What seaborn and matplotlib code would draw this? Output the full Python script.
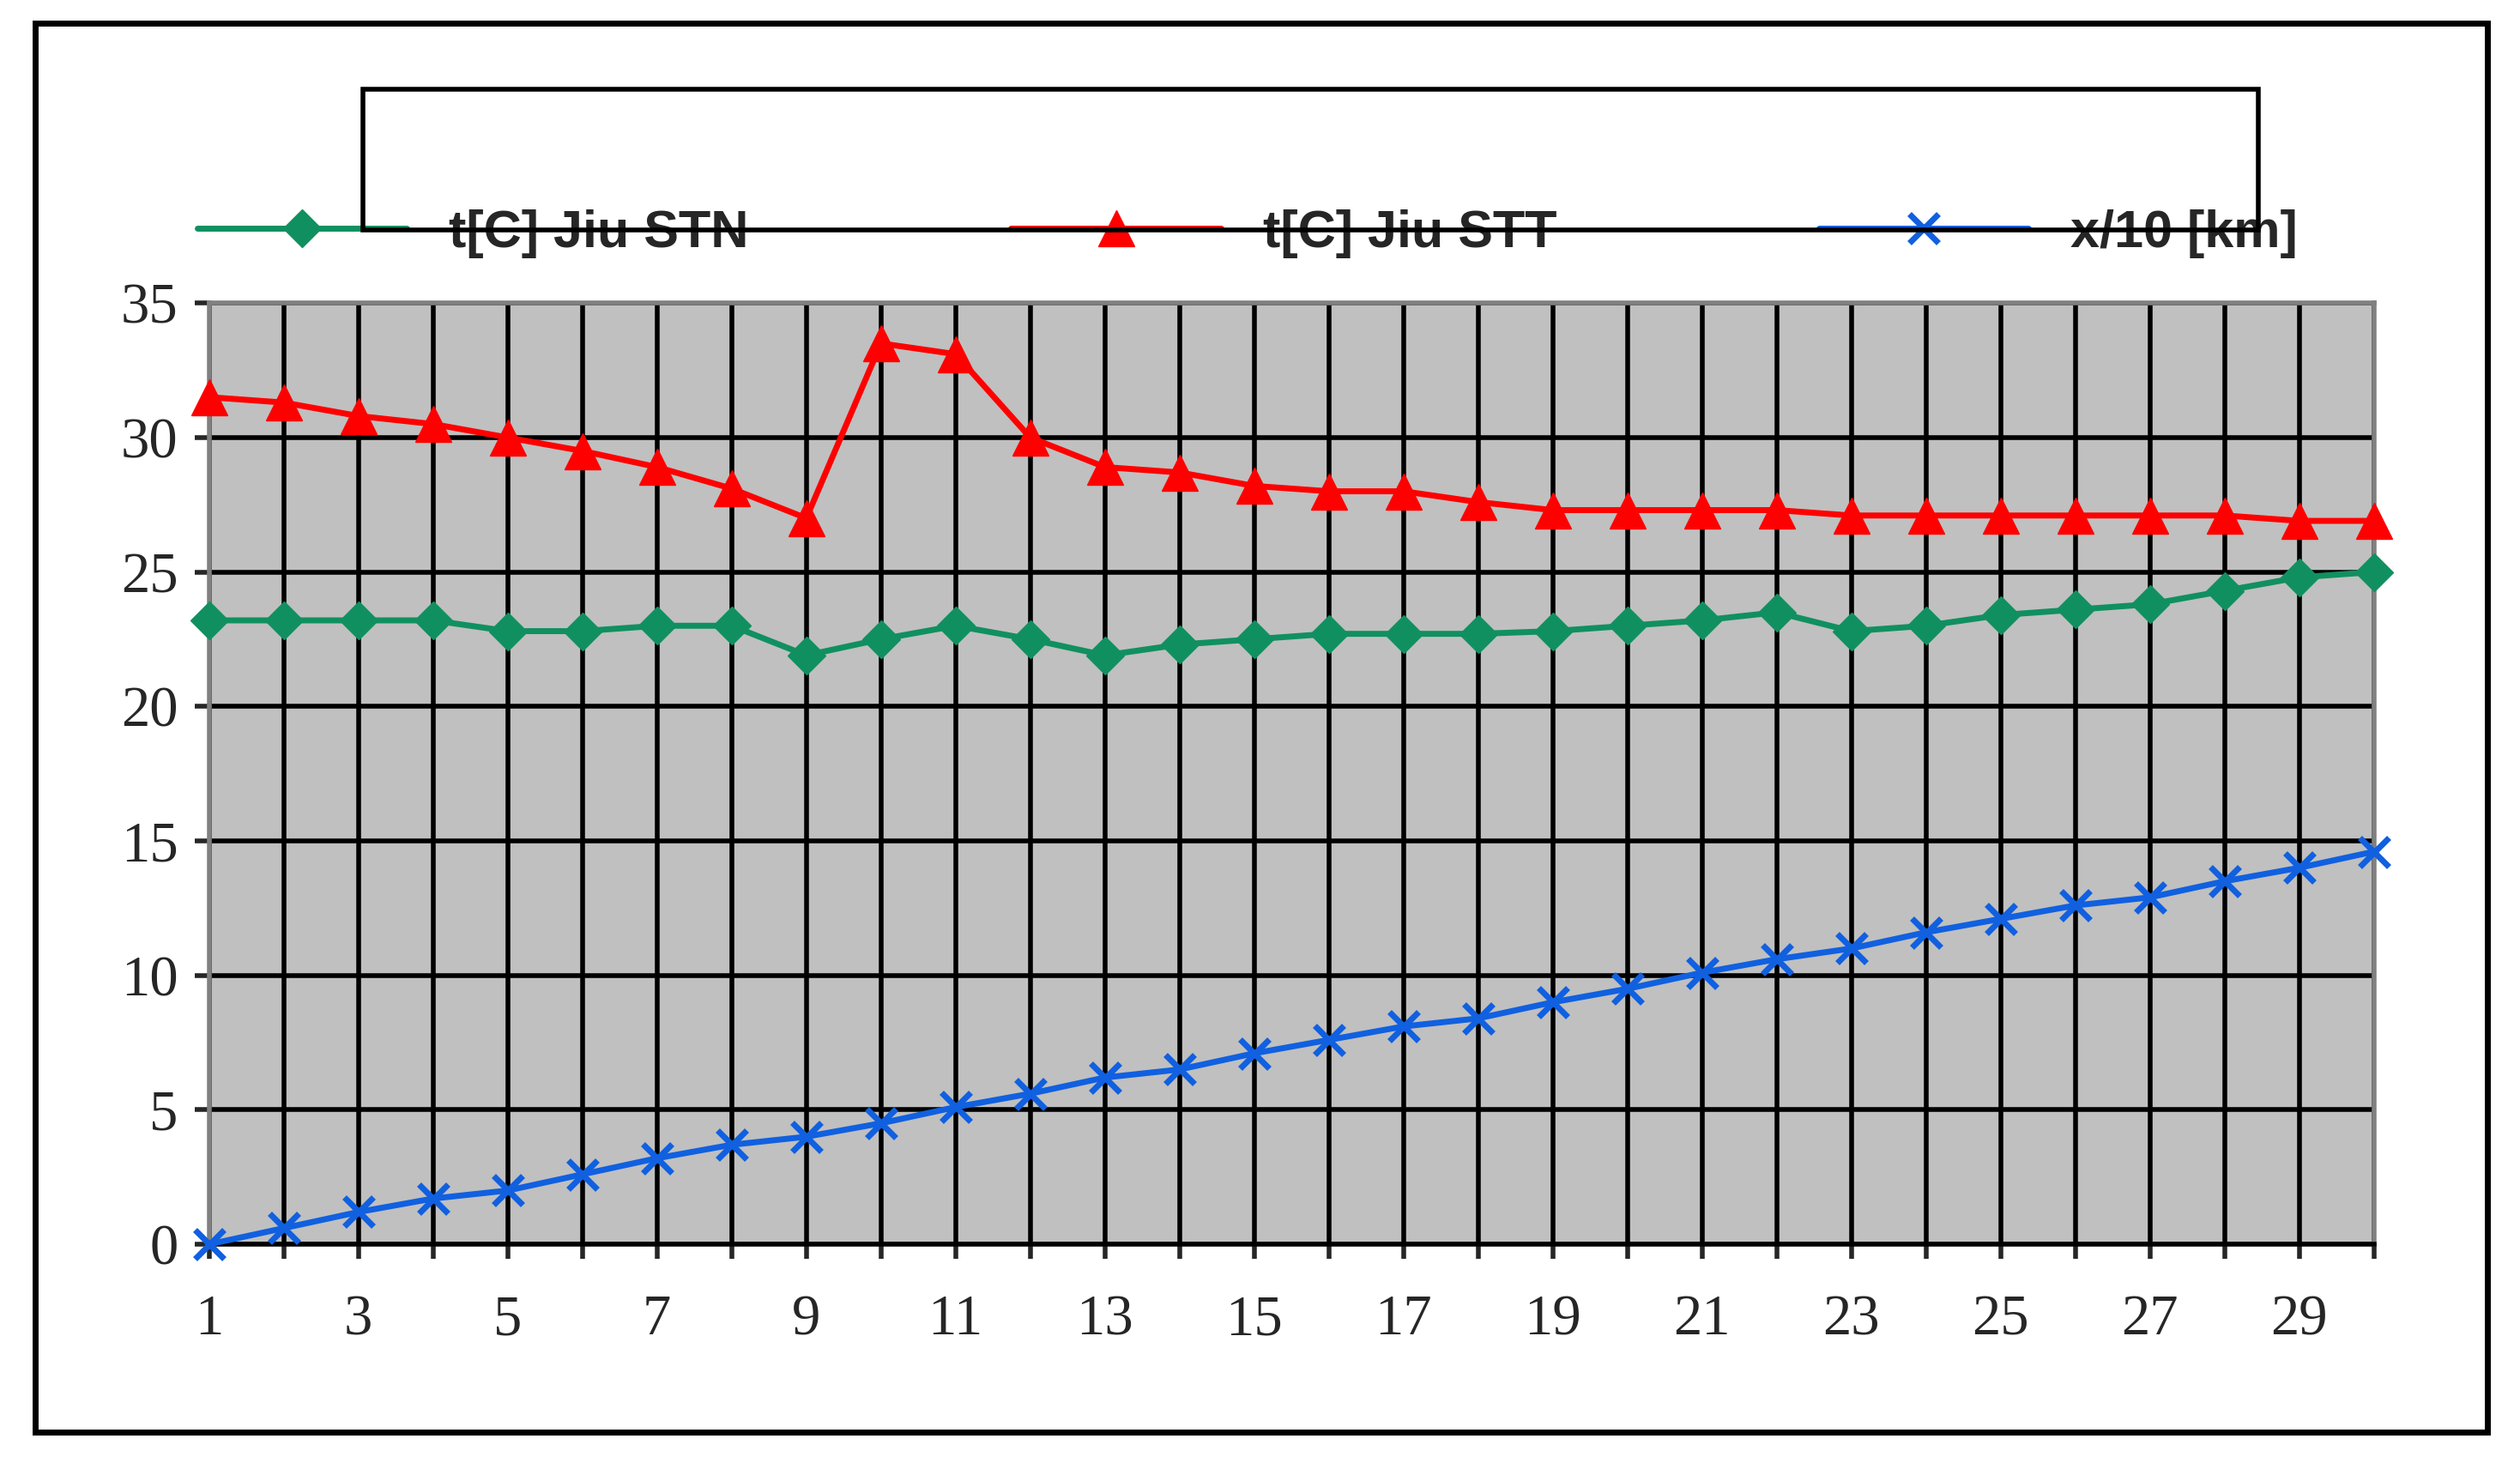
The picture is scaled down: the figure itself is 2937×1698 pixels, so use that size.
import matplotlib
matplotlib.use("Agg")
import matplotlib.pyplot as plt
import seaborn as sns
import pandas as pd
from matplotlib.patches import Rectangle

days = list(range(1, 31))
stn = [23.2, 23.2, 23.2, 23.2, 22.8, 22.8, 23.0, 23.0, 21.9, 22.5,
       23.0, 22.5, 21.9, 22.3, 22.5, 22.7, 22.7, 22.7, 22.8, 23.0,
       23.2, 23.5, 22.8, 23.0, 23.4, 23.6, 23.8, 24.3, 24.8, 25.0]
stt = [31.5, 31.3, 30.8, 30.5, 30.0, 29.5, 28.9, 28.1, 27.0, 33.5,
       33.1, 30.0, 28.9, 28.7, 28.2, 28.0, 28.0, 27.6, 27.3, 27.3,
       27.3, 27.3, 27.1, 27.1, 27.1, 27.1, 27.1, 27.1, 26.9, 26.9]
dist = [0.0, 0.6, 1.2, 1.7, 2.0, 2.6, 3.2, 3.7, 4.0, 4.5,
        5.1, 5.6, 6.2, 6.5, 7.1, 7.6, 8.1, 8.4, 9.0, 9.5,
        10.1, 10.6, 11.0, 11.6, 12.1, 12.6, 12.9, 13.5, 14.0, 14.6]
labels = ["t[C] Jiu STN", "t[C] Jiu STT", "x/10 [km]"]

df = pd.DataFrame({"day": days, labels[0]: stn, labels[1]: stt, labels[2]: dist})

sns.set_style("white")
fig = plt.figure(figsize=(29.37, 16.98), dpi=100)
ax = fig.add_axes([0.083, 0.146, 0.859, 0.646])
ax.set_facecolor("#C0C0C0")

styles = [("#109060", "D", 22, 5), ("#FF0000", "^", 30, 5), ("#1060E0", "x", 24, 5)]
for lab, (c, m, ms, lw) in zip(labels, styles):
    sns.lineplot(data=df, x="day", y=lab, ax=ax, color=c, marker=m, markersize=ms,
                 linewidth=lw, markeredgecolor=c, markeredgewidth=5 if m == "x" else 1,
                 label=lab, zorder=3, clip_on=False)

ax.set_xlim(1, 30)
ax.set_ylim(0, 35)
ax.set_xticks(range(1, 31))
ax.set_xticklabels([str(d) if d % 2 == 1 else "" for d in days])
ax.set_yticks(range(0, 36, 5))
ax.grid(True, color="black", linewidth=4)
ax.set_axisbelow(True)
for s in ax.spines.values():
    s.set_color("#808080")
    s.set_linewidth(4)
ax.spines["bottom"].set_color("black")
ax.tick_params(axis="both", labelsize=48, length=12, width=4, direction="out", bottom=True, left=True)
ax.tick_params(axis="x", pad=30)
ax.tick_params(axis="y", pad=14)
for t in ax.get_xticklabels() + ax.get_yticklabels():
    t.set_fontfamily("Liberation Serif")
ax.set_xlabel("")
ax.set_ylabel("")

leg = ax.legend(loc="center", bbox_to_anchor=(0.144, 0.842, 0.752, 0.097), bbox_transform=fig.transFigure,
                ncol=3, frameon=True, fancybox=False, edgecolor="black", columnspacing=5,
                handlelength=4, handletextpad=0.8,
                prop={"family": "Liberation Sans", "weight": "bold", "size": 44},
                borderpad=1.2)
leg.get_frame().set_linewidth(4)
# stretch frame to the box drawn in the original
leg._legend_box.set_offset(lambda w, h, x, y, r: (fig.bbox.width * 0.52 - w / 2, fig.bbox.height * 0.8905 - h / 2))
fig.patches.append(Rectangle((0.144, 0.842), 0.752, 0.097, transform=fig.transFigure,
                             fill=False, edgecolor="black", linewidth=4))
leg.get_frame().set_visible(False)

fig.patches.append(Rectangle((0.014, 0.017), 0.973, 0.967, transform=fig.transFigure,
                             fill=False, edgecolor="black", linewidth=5))
fig.savefig("out.png", dpi=100, facecolor="white")
